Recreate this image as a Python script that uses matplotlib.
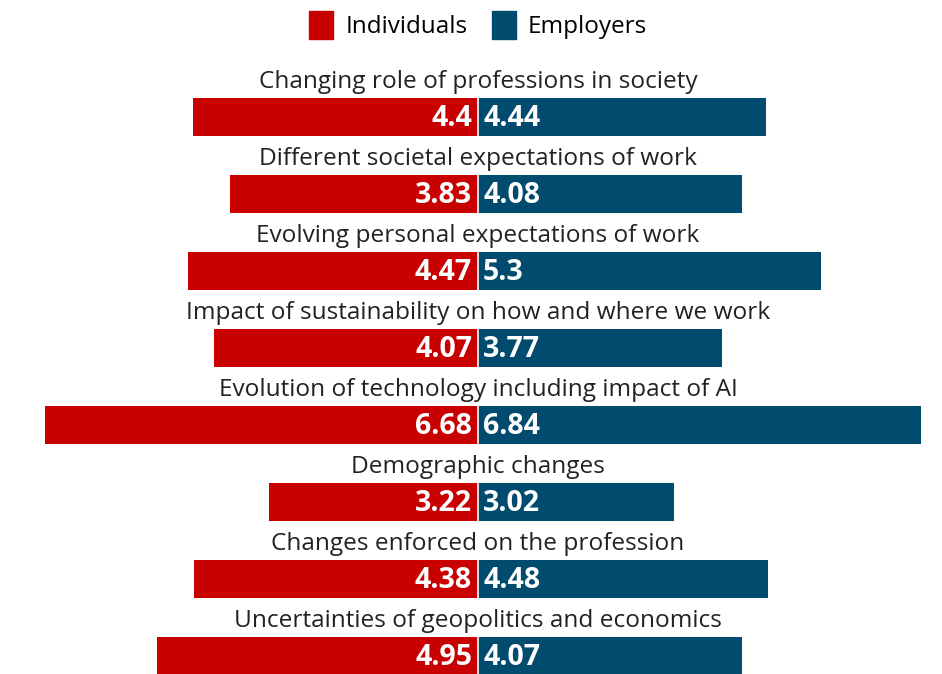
import numpy as np
import matplotlib.pyplot as plt
from matplotlib.patches import Patch

categories = [
    "Changing role of professions in society",
    "Different societal expectations of work",
    "Evolving personal expectations of work",
    "Impact of sustainability on how and where we work",
    "Evolution of technology including impact of AI",
    "Demographic changes",
    "Changes enforced on the profession",
    "Uncertainties of geopolitics and economics",
]
individuals = [4.4, 3.83, 4.47, 4.07, 6.68, 3.22, 4.38, 4.95]
employers = [4.44, 4.08, 5.3, 3.77, 6.84, 3.02, 4.48, 4.07]

RED = "#c80000"
BLUE = "#004b6e"
FONT = "Open Sans"

W, H = 942, 674
fig = plt.figure(figsize=(W / 100, H / 100), dpi=100)
ax = fig.add_axes([0, 0, 1, 1])

# ~64.8 px per unit horizontally, 77 px per row vertically, centre line at x=478
px_x = 64.8
px_row = 77.0
ax.set_xlim(-478 / px_x, (W - 478) / px_x)
ax.set_ylim((H - 117) / px_row, -117 / px_row)
ax.axis("off")

y = np.arange(len(categories))
bar_h = 38 / px_row
ax.barh(y, [-v for v in individuals], height=bar_h, color=RED)
ax.barh(y, employers, height=bar_h, color=BLUE)
ax.axvline(0, color="white", lw=1.2)

for i, (a, b) in enumerate(zip(individuals, employers)):
    ax.text(-6 / px_x, i + 0.02, f"{a:g}", ha="right", va="center",
            color="white", fontsize=20.5, fontweight="bold", family=FONT)
    ax.text(5 / px_x, i + 0.02, f"{b:g}", ha="left", va="center",
            color="white", fontsize=20.5, fontweight="bold", family=FONT)
    ax.text(0, i - 35 / px_row, categories[i], ha="center", va="center",
            color="#222222", fontsize=17.6, family=FONT)

handles = [Patch(color=RED, label="Individuals"), Patch(color=BLUE, label="Employers")]
fig.legend(handles=handles, loc="center", bbox_to_anchor=(478 / W, 1 - 25 / H),
           ncol=2, frameon=False, handlelength=1.0, handleheight=1.4,
           handletextpad=0.5, columnspacing=1.0,
           prop={"family": FONT, "size": 17.5})

fig.savefig("out.png", dpi=100)
